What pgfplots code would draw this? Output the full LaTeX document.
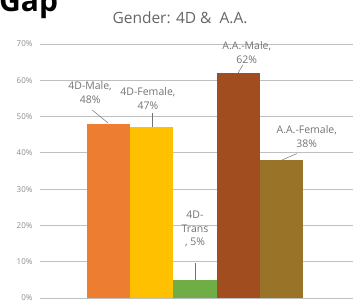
\documentclass[border=0pt]{standalone}
\usepackage{pgfplots}
\pgfplotsset{compat=1.18}
\usepackage{fontspec}
\setmainfont{Open Sans}
\definecolor{cMale}{HTML}{ED7D31}
\definecolor{cFem}{HTML}{FFC000}
\definecolor{cTrans}{HTML}{70AD47}
\definecolor{cAAM}{HTML}{A14D1F}
\definecolor{cAAF}{HTML}{997428}
\definecolor{lbl}{HTML}{737373}
\definecolor{tick}{HTML}{8C8C8C}
\definecolor{grid}{HTML}{D9D9D9}
\begin{document}
\begin{tikzpicture}[x=1pt,y=1pt]
\useasboundingbox (0,0) rectangle (353,303);
\begin{axis}[
  at={(40pt,5pt)}, anchor=south west,
  scale only axis, width=313pt, height=254pt,
  xmin=-1.59, xmax=5.66, ymin=0, ymax=70,
  ybar, bar width=43.2pt,
  axis line style={draw=none},
  xtick=\empty,
  ytick={0,10,...,70},
  yticklabel={\pgfmathprintnumber{\tick}\%},
  /pgf/number format/assume math mode=true,
  yticklabel style={font=\fontsize{8}{8}\selectfont, text=tick, xshift=-4pt},
  major tick length=0pt,
  ymajorgrids, grid style={grid, line width=0.8pt},
  clip=false,
]
\addplot[fill=cMale, draw=none, bar shift=0pt] coordinates {(0,48)};
\addplot[fill=cFem, draw=none, bar shift=0pt] coordinates {(1,47)};
\addplot[fill=cTrans, draw=none, bar shift=0pt] coordinates {(2,5)};
\addplot[fill=cAAM, draw=none, bar shift=0pt] coordinates {(3,62)};
\addplot[fill=cAAF, draw=none, bar shift=0pt] coordinates {(4,38)};
\tikzset{dl/.style={align=center, font=\fontsize{10.5}{14.5}\selectfont, text=lbl, inner sep=0pt}}
\node[dl] at (axis cs:-0.43,56.6) {4D-Male,\\48\%};
\draw[lbl, line width=0.5pt] (axis cs:-0.38,51.8) -- (axis cs:-0.01,48.2);
\node[dl] at (axis cs:0.91,55.0) {4D-Female,\\47\%};
\draw[lbl, line width=0.5pt] (axis cs:1.0,51.0) -- (axis cs:1.0,47);
\node[dl, font=\fontsize{10.5}{13.5}\selectfont] at (axis cs:2.0,19.0) {4D-\\Trans\\, 5\%};
\draw[lbl, line width=0.5pt] (axis cs:2.0,9.6) -- (axis cs:2.0,5);
\node[dl] at (axis cs:3.2,67.7) {A.A.-Male,\\62\%};
\draw[lbl, line width=0.5pt] (axis cs:3.11,64.3) -- (axis cs:3.0,62);
\node[dl] at (axis cs:4.59,44.5) {A.A.-Female,\\38\%};
\draw[lbl, line width=0.5pt] (axis cs:4.01,38) -- (axis cs:4.36,39.8);
\end{axis}
\node[anchor=base west, inner sep=0pt, font=\fontsize{30}{30}\bfseries\selectfont] at (-1,291) {Gap};
\node[anchor=base, inner sep=0pt, font=\fontsize{15.5}{15.5}\selectfont, text=black!60] at (180,279) {Gender: 4D \&\ \ A.A.};
\end{tikzpicture}
\end{document}
